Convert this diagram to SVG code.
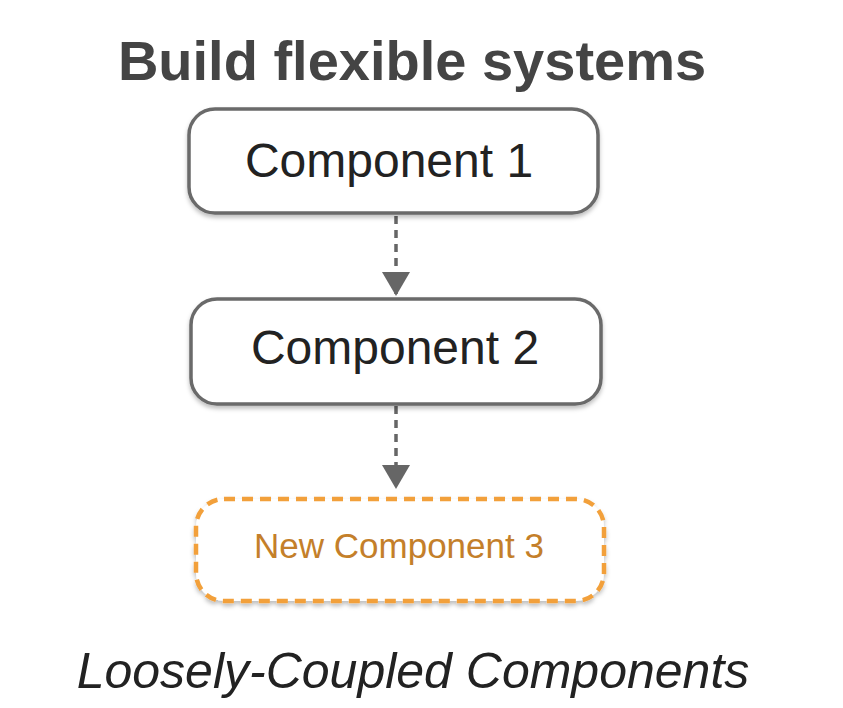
<svg xmlns="http://www.w3.org/2000/svg" width="843" height="708" viewBox="0 0 843 708">
  <defs>
    <filter id="sh" x="-10%" y="-20%" width="120%" height="150%">
      <feDropShadow dx="0" dy="3" stdDeviation="2" flood-color="#000" flood-opacity="0.25"/>
    </filter>
    <marker id="arrow" viewBox="0 0 24 28" refX="24" refY="14" markerWidth="24" markerHeight="28" markerUnits="userSpaceOnUse" orient="auto">
      <path d="M0,0 L24,14 L0,28 Z" fill="#666"/>
    </marker>
  </defs>
  <style>
    .box { fill: #fff; stroke: #6a6a6a; stroke-width: 3.5; }
    .newbox { fill: #fff; stroke: #f2a03a; stroke-width: 4.5; stroke-dasharray: 11 7; }
    .lbl { font-family: "Liberation Sans", Arial, sans-serif; font-size: 48px; fill: #222; text-anchor: middle; }
    .newlbl { font-family: "Liberation Sans", Arial, sans-serif; font-size: 35px; fill: #c47f2a; text-anchor: middle; }
    .title { font-family: "Liberation Sans", Arial, sans-serif; font-size: 56px; font-weight: bold; fill: #444; text-anchor: middle; }
    .caption { font-family: "Liberation Sans", Arial, sans-serif; font-size: 50px; font-style: italic; fill: #222; text-anchor: middle; }
    .conn { stroke: #666; stroke-width: 3.5; stroke-dasharray: 8 6; fill: none; }
  </style>
  <rect width="843" height="708" fill="#fff"/>
  <text class="title" x="412" y="80">Build flexible systems</text>
  <g id="connectors">
    <line class="conn" x1="396" y1="216" x2="396" y2="296" marker-end="url(#arrow)"/>
    <line class="conn" x1="396" y1="406" x2="396" y2="489" marker-end="url(#arrow)"/>
  </g>
  <g id="component1">
    <rect class="box" x="189" y="109" width="409" height="104" rx="26" filter="url(#sh)"/>
    <text class="lbl" x="389" y="177">Component 1</text>
  </g>
  <g id="component2">
    <rect class="box" x="191" y="299" width="410" height="105" rx="26" filter="url(#sh)"/>
    <text class="lbl" x="395" y="364">Component 2</text>
  </g>
  <g id="component3">
    <rect class="newbox" x="196" y="499" width="408" height="102" rx="28" filter="url(#sh)"/>
    <text class="newlbl" x="399" y="558">New Component 3</text>
  </g>
  <text class="caption" x="413" y="688">Loosely-Coupled Components</text>
</svg>
